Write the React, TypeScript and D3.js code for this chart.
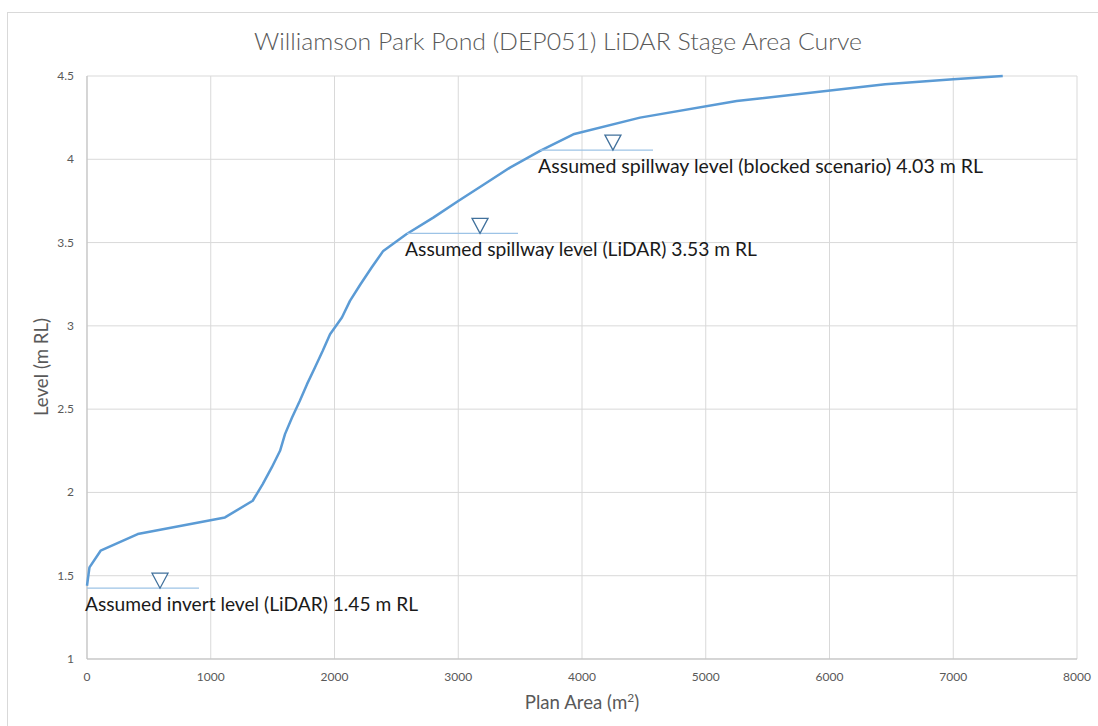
import React from "react";
import * as d3 from "d3";

const areas = [0, 20, 110, 410, 1115, 1339, 1420, 1493, 1560, 1600, 1657, 1720, 1778, 1842, 1905, 1964, 2060, 2125, 2210, 2300, 2394, 2580, 2798, 3000, 3210, 3418, 3661, 3930, 4469, 5250, 6450, 7000, 7400];
const levels = [1.44, 1.55, 1.65, 1.75, 1.85, 1.95, 2.05, 2.15, 2.25, 2.35, 2.45, 2.55, 2.65, 2.75, 2.85, 2.95, 3.05, 3.15, 3.25, 3.35, 3.45, 3.55, 3.65, 3.75, 3.85, 3.95, 4.05, 4.15, 4.25, 4.35, 4.45, 4.48, 4.5];

const xTicks = [0, 1000, 2000, 3000, 4000, 5000, 6000, 7000, 8000];
const yTicks = [1, 1.5, 2, 2.5, 3, 3.5, 4, 4.5];

const annoLabels = [
  "Assumed invert level (LiDAR) 1.45 m RL",
  "Assumed spillway level (LiDAR) 3.53 m RL",
  "Assumed spillway level (blocked scenario) 4.03 m RL",
];
const annoLevels = [1.425, 3.555, 4.055];
const annoStart = [0, 2586, 3661];
const annoEnd = [905, 3483, 4574];
const annoMarker = [590, 3176, 4250];
const annoTextWidth = [333, 352, 445];

const title = "Williamson Park Pond (DEP051) LiDAR Stage Area Curve";

export default function App() {
  const W = 1098, H = 726;
  const left = 87, right = 1077, top = 76, bottom = 659;
  const x = d3.scaleLinear().domain([0, 8000]).range([left, right]);
  const y = d3.scaleLinear().domain([1, 4.5]).range([bottom, top]);
  const pts: [number, number][] = areas.map((a, i) => [a, levels[i]]);
  const line = d3.line<[number, number]>().x(d => x(d[0])).y(d => y(d[1]));
  const font = "Lato, Calibri, Carlito, 'Open Sans', sans-serif";
  const grey = "#595959";

  return (
    <svg width={W} height={H} style={{ position: "absolute", left: 0, top: 0, display: "block" }} fontFamily={font}>
      <rect x={0} y={0} width={W} height={H} fill="#fff" />
      <rect x={7.5} y={12.5} width={W + 20} height={H + 20} fill="#fff" stroke="#d9d9d9" strokeWidth={1} />
      <text x={558} y={50} textAnchor="middle" fontSize={24} fontWeight={300} fill={grey} textLength={608} lengthAdjust="spacingAndGlyphs">{title}</text>
      {xTicks.map(t => (
        <line key={"gx" + t} x1={x(t)} x2={x(t)} y1={top} y2={bottom} stroke="#d9d9d9" strokeWidth={1} />
      ))}
      {yTicks.map(t => (
        <line key={"gy" + t} x1={left} x2={right} y1={y(t)} y2={y(t)} stroke="#d9d9d9" strokeWidth={1} />
      ))}
      <line x1={left} x2={left} y1={top} y2={bottom} stroke="#bfbfbf" strokeWidth={1} />
      <line x1={left} x2={right} y1={bottom} y2={bottom} stroke="#bfbfbf" strokeWidth={1} />
      {xTicks.map(t => (
        <text key={"tx" + t} x={x(t)} y={681} textAnchor="middle" fontSize={12} fill={grey}>{t}</text>
      ))}
      {yTicks.map(t => (
        <text key={"ty" + t} x={74} y={y(t) + 4} textAnchor="end" fontSize={12} fill={grey}>{t}</text>
      ))}
      <text x={582} y={709} textAnchor="middle" fontSize={18.67} fill={grey}>
        Plan Area (m<tspan baselineShift="super" fontSize={12}>2</tspan>)
      </text>
      <text transform="translate(48,367) rotate(-90)" textAnchor="middle" fontSize={18.67} fill={grey}>Level (m RL)</text>
      <path d={line(pts) || ""} fill="none" stroke="#5b9bd5" strokeWidth={2.5} strokeLinejoin="round" />
      {annoLabels.map((lab, i) => {
        const ly = y(annoLevels[i]);
        const mx = x(annoMarker[i]);
        return (
          <g key={"a" + i}>
            <line x1={x(annoStart[i])} x2={x(annoEnd[i])} y1={ly} y2={ly} stroke="#9dc3e6" strokeWidth={1.25} />
            <path d={`M${mx - 8},${ly - 15} L${mx + 8},${ly - 15} L${mx},${ly} Z`} fill="#fff" stroke="#41719c" strokeWidth={1.3} />
            <text x={x(annoStart[i]) - 2} y={ly + 23} fontSize={18.67} fill="#1a1a1a" textLength={annoTextWidth[i]} lengthAdjust="spacingAndGlyphs">{lab}</text>
          </g>
        );
      })}
    </svg>
  );
}
